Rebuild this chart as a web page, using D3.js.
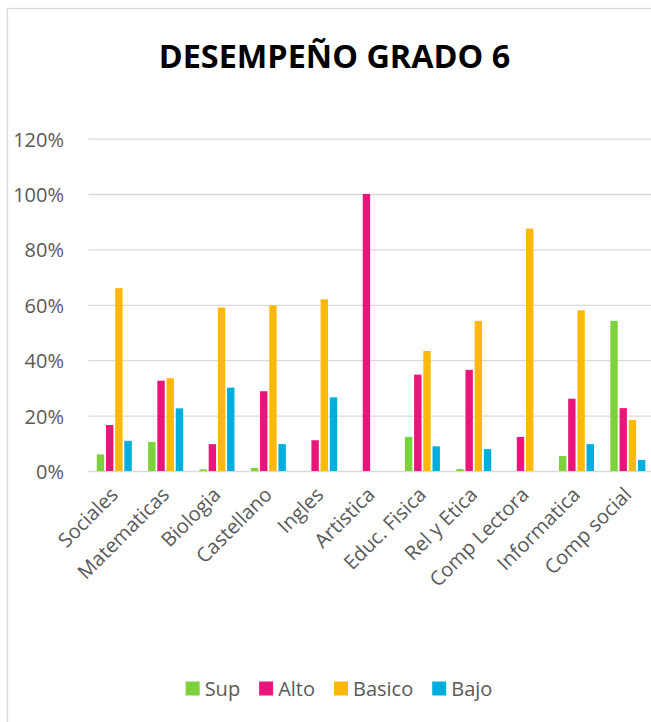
<!DOCTYPE html>
<html>
<head>
<meta charset="utf-8">
<script src="https://cdn.jsdelivr.net/npm/d3@7"></script>
<style>
  html, body { margin: 0; padding: 0; background: #fff; }
  svg { display: block; font-family: "Open Sans", sans-serif; }
</style>
</head>
<body>
<svg id="chart" width="651" height="722"></svg>
<script>
// data (percent)
const categories = ["Sociales", "Matematicas", "Biologia", "Castellano", "Ingles", "Artistica",
                    "Educ. Fisica", "Rel y Etica", "Comp Lectora", "Informatica", "Comp social"];
const seriesNames = ["Sup", "Alto", "Basico", "Bajo"];
const supValues    = [6, 10.5, 0.6, 1.1, 0, 0, 12.3, 0.7, 0, 5.4, 54.2];
const altoValues   = [16.6, 32.6, 9.7, 28.8, 11.1, 100, 34.8, 36.5, 12.3, 26.1, 22.7];
const basicoValues = [66, 33.5, 59, 59.8, 62, 0, 43.3, 54.2, 87.5, 58, 18.4];
const bajoValues   = [10.9, 22.6, 30.1, 9.7, 26.6, 0, 8.9, 7.9, 0, 9.7, 4];
const yTicks = [0, 20, 40, 60, 80, 100, 120];
const seriesColors = ["#7fd13b", "#ea157a", "#feb80a", "#00addc"];

const allValues = [supValues, altoValues, basicoValues, bajoValues];

const svg = d3.select("#chart");
const plot = { left: 88.6, right: 653.5, top: 138.6, bottom: 471 };

// chart frame (runs off the right/bottom edge like the screenshot)
svg.append("rect")
   .attr("x", 7.5).attr("y", 8.5)
   .attr("width", 700).attr("height", 760)
   .attr("fill", "#fff")
   .attr("stroke", "#d9d9d9").attr("stroke-width", 1.3);

// title
svg.append("text")
   .attr("x", 334.5).attr("y", 68)
   .attr("text-anchor", "middle")
   .attr("font-size", 32.4).attr("font-weight", 700)
   .attr("fill", "#000")
   .text("DESEMPEÑO GRADO 6");

const x0 = d3.scaleBand().domain(categories).range([plot.left, plot.right]).padding(0);
const x1 = d3.scaleBand().domain(seriesNames).range([-18.4, 18.4]).padding(0);
const y = d3.scaleLinear().domain([0, 120]).range([plot.bottom, plot.top]);

// gridlines + y labels
const yAxis = d3.axisLeft(y).tickValues(yTicks)
    .tickSize(-(plot.right - plot.left)).tickPadding(0)
    .tickFormat(d => d + "%");
const gy = svg.append("g").attr("transform", `translate(${plot.left},0)`).call(yAxis);
gy.select(".domain").remove();
gy.selectAll(".tick line").attr("stroke", "#d9d9d9").attr("stroke-width", 1.3);
gy.selectAll(".tick text")
  .attr("x", 64 - plot.left).attr("dy", "0.37em")
  .attr("font-size", 20).attr("fill", "#595959")
  .attr("font-family", "Open Sans, sans-serif");

// bars
const groups = svg.append("g").selectAll("g")
  .data(categories)
  .join("g")
  .attr("transform", d => `translate(${x0(d) + x0.bandwidth() / 2},0)`);

groups.selectAll("rect")
  .data((c, i) => seriesNames.map((s, j) => ({ s: s, v: allValues[j][i], color: seriesColors[j] })))
  .join("rect")
  .filter(d => d.v > 0)
  .attr("x", d => x1(d.s) + 0.9)
  .attr("width", x1.bandwidth() - 1.8)
  .attr("y", d => y(d.v))
  .attr("height", d => y(0) - y(d.v))
  .attr("fill", d => d.color);

// x labels rotated
const xAxis = d3.axisBottom(x0).tickSize(0).tickPadding(0);
const gx = svg.append("g").attr("transform", `translate(0,${plot.bottom})`).call(xAxis);
gx.select(".domain").remove();
gx.selectAll(".tick text")
  .attr("font-size", 20).attr("fill", "#595959")
  .attr("font-family", "Open Sans, sans-serif")
  .attr("text-anchor", "end")
  .attr("y", 0).attr("dy", "0.35em")
  .attr("transform", "translate(0,20) rotate(-45)");

// legend
const legend = svg.append("g");
let lx = 0;
seriesNames.forEach((name, i) => {
  const item = legend.append("g").attr("transform", `translate(${lx},0)`);
  item.append("rect").attr("x", 0).attr("y", 681.5).attr("width", 14).attr("height", 14)
      .attr("fill", seriesColors[i]);
  const t = item.append("text").attr("x", 19).attr("y", 696)
      .attr("font-size", 20).attr("fill", "#595959").text(name);
  lx += 19 + t.node().getComputedTextLength() + 19;
});
const legendWidth = lx - 19;
legend.attr("transform", `translate(${339 - legendWidth / 2},0)`);
</script>
</body>
</html>
